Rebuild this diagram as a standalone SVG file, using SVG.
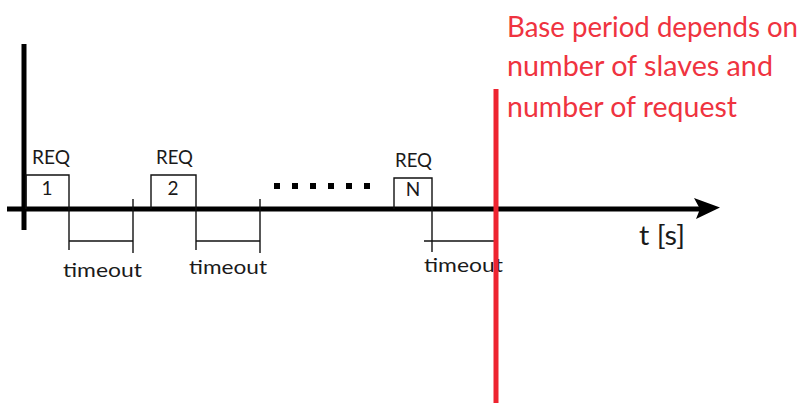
<svg xmlns="http://www.w3.org/2000/svg" width="810" height="403" viewBox="0 0 810 403">
  <style>
    .axis { stroke: #000; stroke-width: 5; fill: none; }
    .thin { stroke: #111; stroke-width: 1.4; fill: none; }
    .lbl { font-family: Lato, "Open Sans", "Liberation Sans", sans-serif; fill: #1a1a1a; }
    .req { font-size: 19px; }
    .num { font-size: 19px; text-anchor: middle; }
    .to { font-size: 19px; }
    .note { font-family: Lato, "Open Sans", "Liberation Sans", sans-serif; font-size: 28px; fill: #ef3340; }
    .dot { fill: #000; }
  </style>

  <rect width="810" height="403" fill="#fff"/>

  <!-- axes -->
  <g id="axes">
    <line class="axis" x1="24" y1="44" x2="24" y2="230"/>
    <line class="axis" x1="7" y1="209" x2="702" y2="209"/>
    <path d="M694 198 L720 207.5 L696 219 L700 209 Z" fill="#000"/>
    <text class="lbl" x="639" y="245" font-size="27" textLength="46" lengthAdjust="spacingAndGlyphs">t [s]</text>
  </g>

  <!-- request pulses -->
  <g id="req1">
    <polyline class="thin" points="26,209 26,175 69,175 69,209"/>
    <text class="lbl req" x="32" y="164" textLength="38" lengthAdjust="spacingAndGlyphs">REQ</text>
    <text class="lbl num" x="47" y="195">1</text>
  </g>
  <g id="req2">
    <polyline class="thin" points="151,209 151,175 196,175 196,209"/>
    <text class="lbl req" x="156" y="164" textLength="37" lengthAdjust="spacingAndGlyphs">REQ</text>
    <text class="lbl num" x="173" y="195">2</text>
  </g>
  <g id="reqN">
    <polyline class="thin" points="394,209 394,178 432,178 432,209"/>
    <text class="lbl req" x="395" y="167" textLength="37" lengthAdjust="spacingAndGlyphs">REQ</text>
    <text class="lbl num" x="413" y="196">N</text>
  </g>

  <!-- ellipsis between requests -->
  <g id="dots">
    <rect class="dot" x="274" y="183" width="6" height="6"/>
    <rect class="dot" x="292" y="183" width="6" height="6"/>
    <rect class="dot" x="310" y="183" width="6" height="6"/>
    <rect class="dot" x="328" y="183" width="6" height="6"/>
    <rect class="dot" x="346" y="183" width="6" height="6"/>
    <rect class="dot" x="364" y="183" width="6" height="6"/>
  </g>

  <!-- timeout brackets -->
  <g id="connectors">
    <line class="thin" x1="69" y1="209" x2="69" y2="250"/>
    <line class="thin" x1="133" y1="199" x2="133" y2="253"/>
    <line class="thin" x1="69" y1="241" x2="133" y2="241"/>

    <line class="thin" x1="196" y1="209" x2="196" y2="250"/>
    <line class="thin" x1="260" y1="199" x2="260" y2="253"/>
    <line class="thin" x1="196" y1="241" x2="260" y2="241"/>

    <line class="thin" x1="432" y1="209" x2="432" y2="252"/>
    <line class="thin" x1="424" y1="241" x2="494" y2="241"/>
  </g>

  <g id="timeout1">
    <text class="lbl to" x="63" y="277" textLength="79" lengthAdjust="spacingAndGlyphs">timeout</text>
  </g>
  <g id="timeout2">
    <text class="lbl to" x="189" y="274" textLength="78" lengthAdjust="spacingAndGlyphs">timeout</text>
  </g>
  <g id="timeoutN">
    <text class="lbl to" x="424" y="272" textLength="79" lengthAdjust="spacingAndGlyphs">timeout</text>
  </g>

  <!-- base period marker -->
  <g id="base-period">
    <line x1="496" y1="89" x2="496" y2="403" stroke="#ee2430" stroke-width="5"/>
    <text class="note" x="507" y="37" textLength="291" lengthAdjust="spacingAndGlyphs">Base period depends on</text>
    <text class="note" x="507" y="76" textLength="266" lengthAdjust="spacingAndGlyphs">number of slaves and</text>
    <text class="note" x="507" y="117" textLength="230" lengthAdjust="spacingAndGlyphs">number of request</text>
  </g>
</svg>
